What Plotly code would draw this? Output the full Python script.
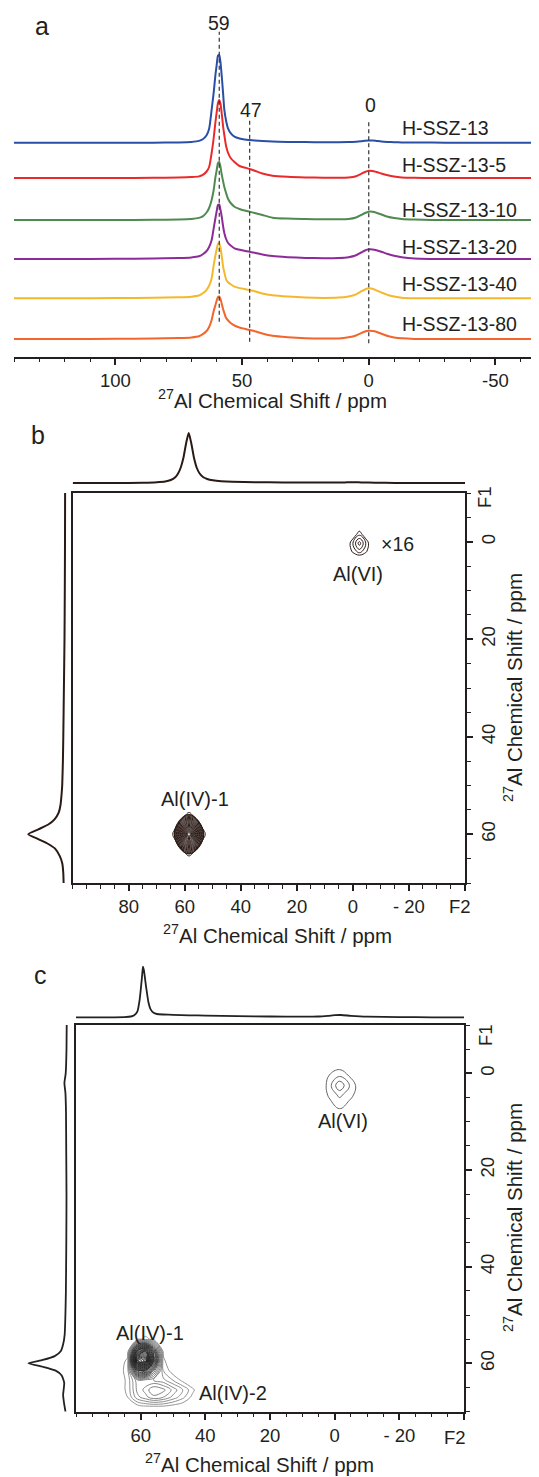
import plotly.graph_objects as go

# page coordinates (px) are used for layout; the page body has an 8 px margin
PAGE_OFF = 8
W, H = 539 - PAGE_OFF, 1477 - PAGE_OFF


def px(x):
    return (x - PAGE_OFF) / W


def py(y):
    return 1 - (y - PAGE_OFF) / H


DARK = "#231f20"
FONT = "Arial, Liberation Sans, sans-serif"

# ---------------- panel a : 1D 27Al MAS NMR spectra ----------------
ppm_a = [140, 120, 100, 85, 75, 70, 67, 65.5, 64, 63, 62, 61.2, 60.5, 60, 59.5, 59, 58.5, 58,
         57.5, 57, 56.3, 55.5, 54.5, 53, 51, 49, 47, 45, 42, 38, 32, 25, 18, 12, 8, 5, 3, 1.5,
         0, -1.5, -3, -5, -7.5, -10, -13, -18, -25, -35, -50, -66]
sample_names = ["H-SSZ-13", "H-SSZ-13-5", "H-SSZ-13-10", "H-SSZ-13-20", "H-SSZ-13-40", "H-SSZ-13-80"]
sample_colors = ["#2b4fa6", "#ea2a2a", "#4f8a50", "#8d2b98", "#f5b82c", "#f2652b"]
int_h_ssz13 = [0, 0, 0, 0, 0.3, 0.8, 1.8, 3.5, 7.5, 14, 33, 50, 68, 78, 87, 87.5, 80, 66, 50, 33,
               22, 14, 9.5, 6, 4.2, 3.2, 2.7, 2.3, 1.8, 1.2, 0.8, 0.6, 0.5, 0.5, 0.6, 1.0, 1.5, 2.0,
               2.3, 2.2, 1.8, 1.2, 0.8, 0.5, 0.3, 0.2, 0.1, 0, 0, 0]
int_h_ssz13_5 = [0, 0, 0, 0.2, 0.5, 0.9, 1.6, 3.2, 6.5, 11, 25, 40, 56, 66, 75, 78, 74, 64, 52, 43,
                 32, 25, 20, 16, 12, 10.5, 9, 7.3, 4.5, 2.3, 1.2, 0.6, 0.3, 0.3, 0.6, 1.8, 4.2, 6,
                 7.2, 7, 6, 4.5, 2.7, 1.4, 0.6, 0.2, 0, 0, 0, 0]
int_h_ssz13_10 = [0, 0, 0, 0.2, 0.6, 1.1, 2.1, 3.6, 7.5, 12, 20, 30, 43, 50, 57, 58, 53, 45, 39, 33,
                  27, 21, 17, 13.3, 11, 9.5, 8.3, 7, 5, 2.3, 1.4, 1, 0.7, 0.7, 1, 2.5, 5, 7,
                  8.3, 8.2, 7.3, 5.5, 3.3, 2, 1, 0.4, 0.1, 0, 0, 0]
int_h_ssz13_20 = [0, 0, 0.2, 0.5, 1, 1.6, 2.7, 4.8, 8, 12, 19, 30.7, 41, 48, 54, 54.5, 49, 42, 33, 26,
                  20, 16, 13.5, 10.7, 9.2, 8.2, 7.3, 6.2, 4.5, 2.9, 1.8, 1.1, 0.8, 1, 1.8, 3.8, 6.5, 8.5,
                  9.7, 9.6, 8.8, 7.2, 5, 3.2, 1.7, 0.4, 0.1, 0, 0, 0]
int_h_ssz13_40 = [0, 0, 0.2, 0.5, 1, 1.6, 2.8, 5, 8.5, 12.5, 20, 33, 43, 49, 54.5, 55, 50, 42, 32, 26,
                  19, 16, 14, 11.6, 10.2, 9.2, 8.3, 7, 4.8, 3.1, 1.8, 0.8, 0.4, 0.7, 1.9, 4, 6.9, 8.8,
                  10, 9.5, 8, 5.8, 3.3, 1.8, 0.6, 0.1, 0, 0, 0, 0]
int_h_ssz13_80 = [0, 0, 0.2, 0.5, 1, 1.6, 2.8, 4.8, 8, 12, 19, 28, 34, 38.5, 42, 42.5, 40, 35, 30, 26,
                  21, 18.5, 16, 13.5, 11.5, 10.2, 9, 7.8, 5.5, 3.2, 1.8, 0.8, 0.4, 0.6, 1.7, 3.5, 5.9, 7.5,
                  8.2, 8, 7.2, 5.2, 3, 1.6, 0.7, 0.1, 0, 0, 0, 0]
stack_offsets = [214, 178.7, 136.7, 97.7, 58.4, 17.7]
marker_ppm = [59, 47, 0]
marker_from = [35, 15, 13.4]
marker_to = [325, 238.4, 236.7]

# ---------------- panel b : H-SSZ-13 2D spectrum ----------------
b_top_f2 = [100, 85, 75, 70, 67, 65, 63.5, 62.5, 61.5, 60.5, 59.5, 58.6, 57.7, 56.7, 55.7, 54.7,
            53.5, 52, 50, 47, 43, 35, 25, 15, 8, 3, 0, -3, -8, -15, -25, -40]
b_top_int = [0, 0, 0.3, 0.8, 1.5, 3, 5.5, 9, 15, 25, 40, 50, 40, 25, 15, 9.5, 6, 4, 2.7, 1.8, 1.2,
             0.8, 0.5, 0.4, 0.4, 0.6, 0.8, 0.6, 0.3, 0.1, 0, 0]
b_left_f1 = [-10, 0, 10, 20, 30, 40, 45, 48, 50, 52, 54, 55.5, 57, 58, 59, 60, 61, 62, 63, 64.5, 66, 68, 70]
b_left_int = [-1.8, -1.7, -1.5, -1.2, -0.6, 0, 0.4, 0.8, 1.1, 1.8, 2.8, 4.5, 9, 15, 25, 35, 25, 15, 8,
              3.5, 1, 0, -0.3]
b_iv_f2 = [69, 63.7, 58.5, 53.3, 48]
b_iv_f1 = [52, 56, 60, 64, 68]
b_iv_z = [[0, 0, 0, 0, 0],
          [0, 22, 45, 22, 0],
          [0, 45, 100, 45, 0],
          [0, 22, 45, 22, 0],
          [0, 0, 0, 0, 0]]
b_vi_f2 = [2.5, 0, -2.3, -4.6, -7]
b_vi_f1 = [-3.5, -1.5, 0.3, 2, 3.5]
b_vi_z = [[0, 0, 0, 0, 0],
          [0, 10, 45, 10, 0],
          [0, 50, 100, 50, 0],
          [0, 35, 60, 35, 0],
          [0, 0, 0, 0, 0]]

# ---------------- panel c : treated sample 2D spectrum ----------------
c_top_f2 = [80, 70, 65, 63, 62, 61, 60.3, 59.6, 59.3, 59, 58.3, 57.6, 57, 56, 55, 53, 50, 45, 40,
            30, 20, 10, 5, 2, 0, -2, -5, -10, -20, -30, -40]
c_top_int = [0, 0, 0.2, 0.8, 2, 6, 18, 40, 50.6, 47, 30, 15, 8.5, 4.5, 3.3, 2.8, 2.4, 2, 1.7, 1.2,
             0.8, 0.6, 0.8, 1.5, 2.1, 2.3, 1.5, 0.6, 0.2, 0, 0]
c_left_f1 = [-10, -5, 0, 2, 4, 8, 15, 25, 35, 45, 50, 54, 56, 57.5, 58.5, 59.3, 60, 60.7, 61.5,
             62.5, 64, 65, 66.5, 68, 70]
c_left_int = [-1, -0.8, 0, 1.3, 0.3, -0.3, -0.5, -0.8, -0.6, -0.2, 0.3, 1, 2.5, 5, 11, 23, 37.4,
              23, 10, 4, 1.5, 1.8, 2.6, 1.8, 0.2]
c_iv_f2 = [68, 64, 61, 58.5, 56, 53, 50, 47, 44, 41]
c_iv_f1 = [52, 55, 57.5, 59.5, 61.5, 63.5, 65.5, 67, 69, 71]
c_iv_z = [[0, 0, 0, 0, 0, 0, 0, 0, 0, 0],
          [0, 0, 3, 5, 3, 0, 0, 0, 0, 0],
          [0, 2, 60, 75, 40, 3, 0, 0, 0, 0],
          [0, 5, 90, 100, 50, 5, 0, 0, 0, 0],
          [0, 6, 45, 50, 28, 7, 2, 0, 0, 0],
          [0, 5, 15, 14, 13, 11, 7, 3, 0, 0],
          [0, 5, 14, 17, 22, 20, 15, 10, 5, 0],
          [0, 4, 12, 15, 18, 16, 12, 8, 3, 0],
          [0, 0, 2, 3, 3, 3, 2, 1, 0, 0],
          [0, 0, 0, 0, 0, 0, 0, 0, 0, 0]]
c_vi_f2 = [4, 1.5, -1.5, -4.5, -8]
c_vi_f1 = [-2, 0.5, 2.5, 4.5, 7.5]
c_vi_z = [[0, 0, 0, 0, 0],
          [0, 25, 45, 20, 0],
          [0, 40, 100, 50, 0],
          [0, 30, 55, 35, 0],
          [0, 0, 20, 0, 0]]

fig = go.Figure()

# panel a traces
series_a = [int_h_ssz13, int_h_ssz13_5, int_h_ssz13_10, int_h_ssz13_20, int_h_ssz13_40, int_h_ssz13_80]
for name, vals, off, col in zip(sample_names, series_a, stack_offsets, sample_colors):
    fig.add_trace(go.Scatter(x=ppm_a, y=[v + off for v in vals], mode="lines", name=name,
                             line=dict(color=col, width=2, shape="spline", smoothing=0.6),
                             xaxis="x", yaxis="y", hoverinfo="skip"))
for p, y0, y1 in zip(marker_ppm, marker_from, marker_to):
    fig.add_shape(type="line", x0=p, x1=p, y0=y0, y1=y1, xref="x", yref="y",
                  line=dict(color="#333333", width=1.2, dash="4px,3px"))

# panel b traces
BROWN = "#2a1a16"
fig.add_trace(go.Scatter(x=b_top_f2, y=b_top_int, mode="lines",
                         line=dict(color=BROWN, width=2, shape="spline", smoothing=0.6),
                         xaxis="x3", yaxis="y3", hoverinfo="skip"))
fig.add_trace(go.Scatter(x=b_left_int, y=b_left_f1, mode="lines",
                         line=dict(color=BROWN, width=2, shape="spline", smoothing=0.6),
                         xaxis="x4", yaxis="y4", hoverinfo="skip"))
fig.add_trace(go.Contour(x=b_iv_f2, y=b_iv_f1, z=b_iv_z, xaxis="x2", yaxis="y2",
                         autocontour=False,
                         contours=dict(coloring="lines", start=40, end=97, size=2.5),
                         colorscale=[[0, BROWN], [1, BROWN]], showscale=False,
                         line=dict(width=1, smoothing=1.3), hoverinfo="skip"))
fig.add_trace(go.Contour(x=b_vi_f2, y=b_vi_f1, z=b_vi_z, xaxis="x2", yaxis="y2",
                         autocontour=False,
                         contours=dict(coloring="lines", start=30, end=90, size=20),
                         colorscale=[[0, BROWN], [1, BROWN]], showscale=False,
                         line=dict(width=1, smoothing=1.2), hoverinfo="skip"))

# panel c traces
GRAYK = "#222222"
fig.add_trace(go.Scatter(x=c_top_f2, y=c_top_int, mode="lines",
                         line=dict(color=GRAYK, width=1.8, shape="spline", smoothing=0.5),
                         xaxis="x6", yaxis="y6", hoverinfo="skip"))
fig.add_trace(go.Scatter(x=c_left_int, y=c_left_f1, mode="lines",
                         line=dict(color=GRAYK, width=1.8, shape="spline", smoothing=0.5),
                         xaxis="x7", yaxis="y7", hoverinfo="skip"))
fig.add_trace(go.Contour(x=c_iv_f2, y=c_iv_f1, z=c_iv_z, xaxis="x5", yaxis="y5",
                         autocontour=False, zauto=False, zmin=0, zmax=100,
                         contours=dict(coloring="lines", start=4, end=98, size=3),
                         colorscale=[[0, "#8a8a8a"], [0.2, "#6e6e6e"], [0.28, "#3a3a3a"], [1, "#111111"]],
                         showscale=False, line=dict(width=0.9, smoothing=1.0), hoverinfo="skip"))
fig.add_trace(go.Contour(x=c_vi_f2, y=c_vi_f1, z=c_vi_z, xaxis="x5", yaxis="y5",
                         autocontour=False,
                         contours=dict(coloring="lines", start=22, end=76, size=27),
                         colorscale=[[0, "#666666"], [1, "#666666"]], showscale=False,
                         line=dict(width=1, smoothing=1.2), hoverinfo="skip"))

tickfont = dict(family=FONT, size=18.5, color=DARK)


def box_x(domain, rng, anchor, vals, texts):
    return dict(domain=domain, range=rng, anchor=anchor, showline=True, mirror=True,
                linewidth=2, linecolor=DARK, ticks="outside", ticklen=6, tickwidth=1.5,
                tickcolor=DARK, tickmode="array", tickvals=vals, ticktext=texts,
                tickfont=tickfont, showgrid=False, zeroline=False,
                minor=dict(tickmode="linear", tick0=0, dtick=5, ticks="outside", ticklen=3.5,
                           tickwidth=1.2, tickcolor=DARK, showgrid=False))


def box_y(domain, anchor):
    return dict(domain=domain, range=[70, -10], anchor=anchor, side="right", showline=True,
                mirror=True, linewidth=2, linecolor=DARK, ticks="outside", ticklen=6,
                tickwidth=1.5, tickcolor=DARK, tickmode="array", tickvals=[0, 20, 40, 60],
                ticktext=["0", "20", "40", "60"], tickangle=-90, tickfont=tickfont,
                showgrid=False, zeroline=False,
                minor=dict(tickmode="linear", tick0=0, dtick=5, ticks="outside", ticklen=3.5,
                           tickwidth=1.2, tickcolor=DARK, showgrid=False))


def hidden(domain, rng, anchor):
    return dict(domain=domain, range=rng, anchor=anchor, visible=False, showgrid=False,
                zeroline=False)


layout = dict(
    width=W, height=H, margin=dict(l=0, r=0, t=0, b=0),
    paper_bgcolor="white", plot_bgcolor="rgba(0,0,0,0)", showlegend=False,
    font=dict(family=FONT, color=DARK),
    xaxis=dict(domain=[px(14), px(536)], range=[140, -66], anchor="y", showline=True,
               linewidth=2, linecolor=DARK, ticks="outside", ticklen=6, tickwidth=1.5,
               tickcolor=DARK, tickmode="array", tickvals=[100, 50, 0, -50],
               ticktext=["100", "50", "0", "-50"], tickfont=tickfont, showgrid=False,
               zeroline=False,
               minor=dict(tickmode="linear", tick0=0, dtick=10, ticks="outside", ticklen=3.5,
                          tickwidth=1.2, tickcolor=DARK, showgrid=False)),
    yaxis=hidden([py(356.7), 1], [0, 356.7 - PAGE_OFF], "x"),
    xaxis2=box_x([px(72.7), px(465)], [100, -40], "y2", [80, 60, 40, 20, 0, -20, -40],
                 ["80", "60", "40", "20", "0", "- 20", ""]),
    yaxis2=box_y([py(883), py(493)], "x2"),
    xaxis3=hidden([px(72.7), px(465)], [100, -40], "y3"),
    yaxis3=hidden([py(490), py(420)], [-7, 63], "x3"),
    xaxis4=hidden([px(15), px(70)], [48.3, -6.7], "y4"),
    yaxis4=hidden([py(883), py(493)], [70, -10], "x4"),
    xaxis5=box_x([px(76), px(464)], [80, -40], "y5", [60, 40, 20, 0, -20, -40],
                 ["60", "40", "20", "0", "- 20", ""]),
    yaxis5=box_y([py(1411.7), py(1025)], "x5"),
    xaxis6=hidden([px(76), px(464)], [80, -40], "y6"),
    yaxis6=hidden([py(1022), py(955)], [-4.7, 62.3], "x6"),
    xaxis7=hidden([px(15), px(73)], [50.7, -7.3], "y7"),
    yaxis7=hidden([py(1411.7), py(1025)], [70, -10], "x7"),
)
fig.update_layout(**layout)

TITLE = "<sup>27</sup>Al Chemical Shift / ppm"
notes = [
    # x_px, y_px, text, size, angle, anchor
    (41.7, 26, "a", 25, 0, "center"),
    (218.5, 22.7, "59", 19.5, 0, "center"),
    (250.7, 110, "47", 19.5, 0, "center"),
    (370, 105, "0", 19.5, 0, "center"),
    (272.5, 399, TITLE, 20.5, 0, "center"),
    (38.3, 434.7, "b", 25, 0, "center"),
    (397, 544, "×16", 19.5, 0, "center"),
    (358.3, 574, "Al(VI)", 20, 0, "center"),
    (195, 799, "Al(IV)-1", 20, 0, "center"),
    (460, 906, "F2", 18.5, 0, "center"),
    (485, 497, "F1", 18.5, -90, "center"),
    (277.5, 934, TITLE, 20.5, 0, "center"),
    (513, 688, TITLE, 20.5, -90, "center"),
    (40.7, 975, "c", 25, 0, "center"),
    (343.3, 1120.7, "Al(VI)", 20, 0, "center"),
    (150, 1333, "Al(IV)-1", 20, 0, "center"),
    (233, 1392.7, "Al(IV)-2", 20, 0, "center"),
    (455, 1437, "F2", 18.5, 0, "center"),
    (485, 1035, "F1", 18.5, -90, "center"),
    (513, 1218, TITLE, 20.5, -90, "center"),
    (259, 1463, TITLE, 20.5, 0, "center"),
]
label_y = [128.3, 165.5, 210, 246.5, 284.5, 324]
for name, yy in zip(sample_names, label_y):
    notes.append((400, yy, name, 19.5, 0, "left"))

anns = []
for x, y, t, s, ang, anc in notes:
    anns.append(dict(x=px(x), y=py(y), xref="paper", yref="paper", text=t, showarrow=False,
                     textangle=ang, xanchor=anc, yanchor="middle",
                     font=dict(family=FONT, size=s, color=DARK)))
fig.update_layout(annotations=anns)

fig.write_html("out.html")
